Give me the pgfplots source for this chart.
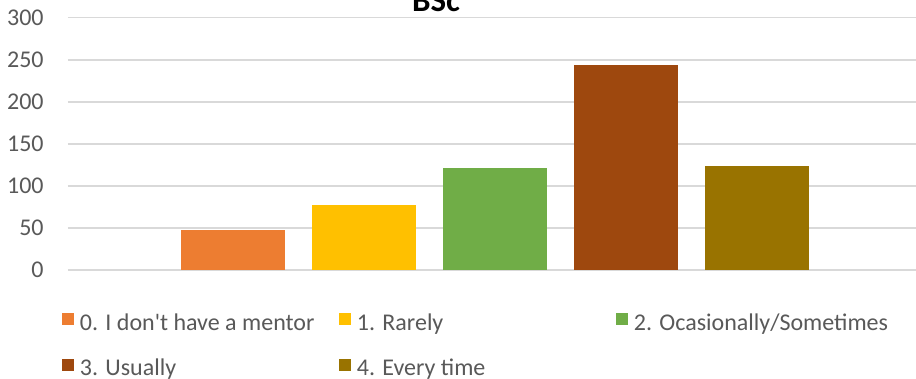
\documentclass[border=0pt]{standalone}
\usepackage{pgfplots}
\pgfplotsset{compat=1.18}
\usepackage{fontspec}
\setmainfont{Carlito}[Ligatures=TeXOff]
\definecolor{c0}{HTML}{ED7D31}
\definecolor{c1}{HTML}{FFC000}
\definecolor{c2}{HTML}{70AD47}
\definecolor{c3}{HTML}{9E480E}
\definecolor{c4}{HTML}{997300}
\definecolor{txt}{HTML}{595959}
\definecolor{gridc}{HTML}{D9D9D9}
\newcommand{\legtxt}[1]{\makebox[129.5pt][l]{\strut #1}}
\begin{document}
\begin{tikzpicture}
\fill[white] (0,0) rectangle (458pt,189.5pt);
\begin{axis}[
  at={(34pt,54.5pt)}, anchor=south west,
  scale only axis, width=424pt, height=126.15pt,
  xmin=-0.2595, xmax=6.2137, ymin=0, ymax=300,
  ytick={0,50,...,300}, xtick=\empty,
  ymajorgrids, major grid style={color=gridc, line width=0.75pt},
  axis line style={draw=none}, major tick length=0pt,
  tick label style={font=\fontsize{12}{14}\selectfont, text=txt},
  yticklabel style={inner sep=0pt, xshift=-12pt},
  /pgf/number format/assume math mode=true,
  ybar, bar width=0.794, bar shift=0pt,
  every axis plot/.append style={legend image code/.code={\fill[#1] (0pt,-2.2pt) rectangle (6pt,3.8pt);}},
  legend columns=3,
  legend style={at={(axis description cs:-0.00708,-0.1546)}, anchor=north west,
    draw=none, fill=none, inner sep=0pt, outer sep=0pt,
    font=\fontsize{12}{15}\selectfont, text=txt,
    column sep=0pt, row sep=10.8pt,
    nodes={inner sep=0pt},
    /tikz/every odd column/.style={column sep=3pt}},
  legend cell align=left,
]
\addplot[fill=c0, draw=none] coordinates {(1,48)};
\addplot[fill=c1, draw=none] coordinates {(2,77)};
\addplot[fill=c2, draw=none] coordinates {(3,121)};
\addplot[fill=c3, draw=none] coordinates {(4,244)};
\addplot[fill=c4, draw=none] coordinates {(5,124)};
\legend{\legtxt{0. I don't have a mentor},
        \legtxt{1. Rarely},
        \legtxt{2. Ocasionally/Sometimes},
        \legtxt{3. Usually},
        \legtxt{4. Every time}}
\end{axis}
\node[anchor=base, font=\bfseries\fontsize{16.5}{20}\selectfont, inner sep=0pt] at (218pt,183.5pt) {BSc};
\pgfresetboundingbox
\path (0,0) rectangle (458pt,189.5pt);
\end{tikzpicture}
\end{document}
